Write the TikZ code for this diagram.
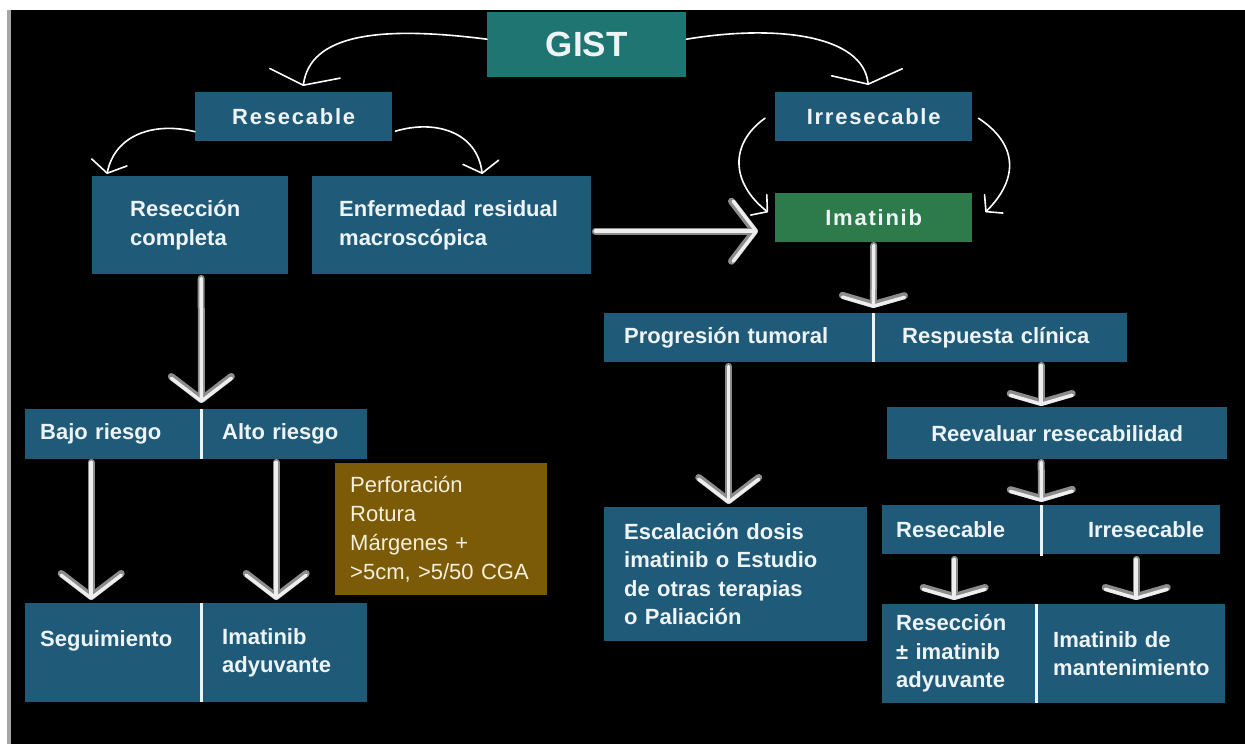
\documentclass[tikz,border=0pt]{standalone}
\usepackage{fontspec}
\setmainfont{Liberation Sans}
\newfontfamily\trackedfont{Liberation Sans}[LetterSpace=8]
\usetikzlibrary{arrows.meta}

\definecolor{boxblue}{HTML}{1F5A79}
\definecolor{gistteal}{HTML}{1E7571}
\definecolor{drugreen}{HTML}{2D7A4B}
\definecolor{critbrown}{HTML}{7B5A08}
\definecolor{boxtext}{HTML}{EEF4F6}
\definecolor{crittext}{HTML}{F6F0DA}
\definecolor{pipedark}{HTML}{8C8C8C}
\definecolor{pipelight}{HTML}{EEEEEE}

\tikzset{
  box/.style={anchor=north west, fill=boxblue, text=boxtext, inner ysep=0pt,
    align=left, font=\bfseries\fontsize{22}{28.5}\selectfont},
  boxsize/.style 2 args={minimum width=#1pt, minimum height=#2pt},
  pad/.style 2 args={inner xsep=#1pt, text width=#2pt},
  centred/.style={inner xsep=0pt, align=center},
  tracked/.style={font=\trackedfont\bfseries\fontsize{22}{26}\selectfont},
  divider/.style={draw=boxtext, line width=2.2pt},
  thin link/.style={draw=white, line width=1.6pt, line cap=round, line join=round},
  big barb/.style={-{Straight Barb[length=12pt 0, width=71pt 0, round]}},
  mid barb/.style={-{Straight Barb[length=11pt 0, width=36pt 0, round]}},
  small barb/.style={-{Straight Barb[length=11pt 0, width=26pt 0, round]}},
  pipe base/.style={draw=pipedark, line width=7pt, line cap=round, line join=round},
  pipe core/.style={draw=pipelight, line width=3.5pt, line cap=round, line join=round},
  steep tip/.style={-{Straight Barb[length=23pt 0, width=60pt 0, round]}},
  flat tip/.style={-{Straight Barb[length=9pt 0, width=62pt 0, round]}},
}

% shaded double-layer arrow between two anchors
\newcommand\pipelink[3][]{%
  \draw[pipe base, #1] #2 -- #3;
  \draw[pipe core, #1] #2 -- #3;}

\begin{document}
\begin{tikzpicture}[x=1pt, y=-1pt]
\useasboundingbox (0,0) rectangle (1245,744);
\fill[white] (0,0) rectangle (1245,744);
\fill[black] (10,10) rectangle (1245,744);
\fill[gray!70] (7,10) rectangle (10.5,744);

% top level
\node[box, fill=gistteal, boxsize={199}{65}, centred,
  font=\bfseries\fontsize{35}{40}\selectfont] (gist) at (487,12) {GIST};
\node[box, boxsize={197}{49}, centred, tracked] (resec) at (195,92) {Resecable};
\node[box, boxsize={197}{49}, centred, tracked] (irres) at (775,92) {Irresecable};
\node[box, fill=drugreen, boxsize={197}{49}, centred, tracked] (imat) at (775,193) {Imatinib};

% resectable branch
\node[box, boxsize={196}{98}, pad={38}{120}] (rcomp) at (92,176) {Resección\\completa};
\node[box, boxsize={279}{98}, pad={27}{225}] (enf) at (312,176) {Enfermedad residual\\macroscópica};
\node[box, boxsize={176}{50}, pad={15}{146}] (bajo) at (25,409) {Bajo riesgo};
\node[box, boxsize={166}{50}, pad={21}{124}] (alto) at (201,409) {Alto riesgo};
\node[box, fill=critbrown, text=crittext, boxsize={212}{132}, pad={15}{182},
  font=\fontsize{22}{29}\selectfont] (crit) at (335,463)
  {Perforación\\Rotura\\Márgenes +\\>5cm, >5/50 CGA};
\node[box, boxsize={176}{99}, pad={15}{146}] (seg) at (25,603) {Seguimiento\\\mbox{}};
\node[box, boxsize={166}{99}, pad={21}{124}] (adyu) at (201,603) {Imatinib\\adyuvante};

% imatinib branch
\node[box, boxsize={269}{49}, pad={20}{229}] (prog) at (604,313) {Progresión tumoral};
\node[box, boxsize={254}{49}, pad={29}{196}] (resp) at (873,313) {Respuesta clínica};
\node[box, boxsize={263}{134}, pad={20}{223}] (esc) at (604,507)
  {Escalación dosis\\imatinib o Estudio\\de otras terapias\\o Paliación};
\node[box, boxsize={340}{52}, centred] (reev) at (887,407) {Reevaluar resecabilidad};
\node[box, boxsize={159}{49}, pad={14}{131}] (resec2) at (882,505) {Resecable};
\node[box, boxsize={179}{49}, pad={16}{147}, align=right] (irres2) at (1041,505) {Irresecable};
\node[box, boxsize={154}{99}, pad={14}{126}] (rescc) at (882,604) {Resección\\± imatinib\\adyuvante};
\node[box, boxsize={189}{99}, pad={17}{155}] (mant) at (1036,604) {Imatinib de\\mantenimiento};

% dividers of the paired boxes
\draw[divider] (bajo.north east) -- (bajo.south east);
\draw[divider] (seg.north east) -- (seg.south east);
\draw[divider] (prog.north east) -- (prog.south east);
\draw[divider] (resec2.north east) -- ([yshift=-2pt]resec2.south east);
\draw[divider] (rescc.north east) -- (rescc.south east);

% thin curved links
\draw[thin link, big barb] ([yshift=5.5pt]gist.west)
  .. controls +(-110,-14) and +(7,-51) .. ([xshift=9.5pt,yshift=6pt]resec.north);
\draw[thin link, big barb] ([yshift=5.5pt]gist.east)
  .. controls +(90,-15) and +(-5,-50) .. ([xshift=-5.5pt,yshift=7pt]irres.north);
\draw[thin link, mid barb] ([yshift=-15pt]resec.west)
  .. controls +(-40,-10) and +(8,-40) .. ([xshift=15pt,yshift=2pt]rcomp.north west);
\draw[thin link, mid barb] ([xshift=3pt,yshift=-14.5pt]resec.east)
  .. controls +(40,-12) and +(-5,-42) .. ([xshift=30.5pt,yshift=2pt]enf.north);
\draw[thin link, small barb] ([xshift=-10pt,yshift=-1.5pt]irres.west)
  .. controls +(-35,25) and +(-38,-30) .. ([xshift=-7pt,yshift=5.5pt]imat.west);
\draw[thin link, small barb] ([xshift=6pt,yshift=-1.5pt]irres.east)
  .. controls +(38,25) and +(35,-35) .. ([xshift=13pt,yshift=5.5pt]imat.east);

% shaded arrows
\pipelink[steep tip]{([xshift=11pt,yshift=-4pt]rcomp.south)}{([yshift=6pt]bajo.north east)}
\pipelink[steep tip]{([xshift=4pt,yshift=-6pt]enf.east)}{([xshift=-17pt,yshift=-13.5pt]imat.west)}
\pipelink[flat tip]{([yshift=-3pt]imat.south)}{([yshift=5pt]prog.north east)}
\pipelink[steep tip]{([xshift=-10pt,yshift=-4pt]prog.south)}{([xshift=-7pt,yshift=3pt]esc.north)}
\pipelink[flat tip]{([xshift=41pt,yshift=-3pt]resp.south)}{([xshift=-16pt,yshift=1pt]reev.north)}
\pipelink[flat tip]{([xshift=-16pt,yshift=-3pt]reev.south)}{([yshift=3pt]resec2.north east)}
\pipelink[flat tip]{([xshift=-7.5pt,yshift=-5pt]resec2.south)}{([xshift=-5pt,yshift=4pt]rescc.north)}
\pipelink[flat tip]{([xshift=5.5pt,yshift=-5pt]irres2.south)}{([xshift=5.5pt,yshift=4pt]mant.north)}
\pipelink[steep tip]{([xshift=-22pt,yshift=-3pt]bajo.south)}{([xshift=-22pt,yshift=3pt]seg.north)}
\pipelink[steep tip]{([xshift=-8pt,yshift=-3pt]alto.south)}{([xshift=-8pt,yshift=3pt]adyu.north)}
\end{tikzpicture}
\end{document}
